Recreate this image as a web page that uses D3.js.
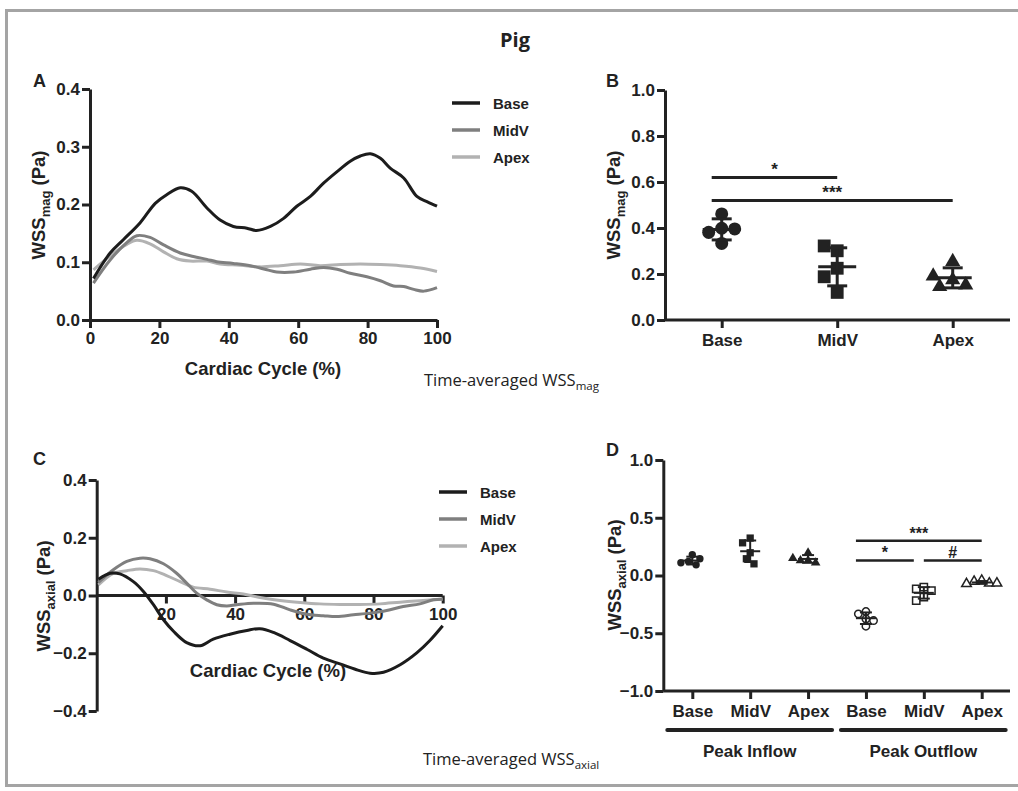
<!DOCTYPE html>
<html>
<head>
<meta charset="utf-8">
<script src="https://cdn.jsdelivr.net/npm/d3@7"></script>
<style>
  body { margin: 0; background: #fff; }
  text { font-family: "Liberation Sans", Arial, sans-serif; font-weight: bold; fill: #222; }
  .cap { font-family: "Open Sans", "Noto Sans", sans-serif; font-weight: normal; }
</style>
</head>
<body>
<svg id="chart" width="1018" height="791"></svg>
<script>
// ---- data ----
const regions = ["Base", "MidV", "Apex"];
const groups = ["Peak Inflow", "Peak Outflow"];

// panel A: WSS magnitude over the cardiac cycle, [cycle %, Pa]
const magBase = [[1,0.072],[5.8,0.116],[9.6,0.139],[14.4,0.168],[18.8,0.202],[22.1,0.217],[26,0.229],[29.3,0.223],[33.7,0.194],[37.5,0.173],[41.3,0.162],[45.2,0.159],[48,0.155],[52,0.162],[55.8,0.176],[59.6,0.197],[63.5,0.214],[67.3,0.237],[71.2,0.257],[75,0.275],[77.9,0.284],[80.8,0.288],[83.7,0.28],[86.5,0.263],[90.4,0.246],[94.2,0.214],[97.1,0.205],[100,0.197]];
const magMidV = [[1,0.064],[5.8,0.104],[10.6,0.134],[13.5,0.146],[17.3,0.143],[21.2,0.13],[26,0.116],[29.8,0.11],[33.7,0.105],[36.5,0.101],[41.3,0.098],[46.2,0.094],[51,0.087],[53.8,0.083],[58.7,0.083],[63.5,0.088],[67.3,0.091],[71.2,0.088],[75,0.081],[79.8,0.075],[83.7,0.068],[87.5,0.059],[90.4,0.058],[93.3,0.053],[96.2,0.05],[100,0.056]];
const magApex = [[1,0.087],[5.8,0.111],[10.6,0.131],[13.5,0.138],[17.3,0.132],[21.2,0.118],[25,0.106],[28.8,0.102],[33.7,0.102],[37.5,0.097],[43.3,0.095],[49,0.092],[54.8,0.094],[60.6,0.097],[66.3,0.094],[72.1,0.096],[77.9,0.097],[83.7,0.096],[89.4,0.094],[95.2,0.09],[100,0.084]];

// panel C: axial WSS over the cardiac cycle
const axBase = [[0.5,0.056],[3.9,0.077],[6.7,0.075],[10.6,0.048],[13.5,0.014],[16.4,-0.032],[19.3,-0.084],[22.2,-0.124],[26,-0.163],[29.9,-0.174],[33.7,-0.151],[38.5,-0.134],[43.4,-0.121],[47.2,-0.115],[51.1,-0.128],[55.9,-0.156],[60.7,-0.186],[65.5,-0.217],[70.3,-0.237],[75.1,-0.257],[79,-0.269],[82.9,-0.266],[87.7,-0.24],[92.5,-0.199],[96.3,-0.156],[100,-0.105]];
const axMidV = [[0.5,0.045],[4.8,0.089],[8.7,0.118],[12.5,0.129],[15.4,0.127],[19.3,0.11],[23.1,0.077],[26,0.043],[28.9,0.008],[31.8,-0.015],[34.7,-0.032],[37.6,-0.036],[40.5,-0.032],[45.3,-0.027],[51.1,-0.03],[55.9,-0.05],[60.7,-0.065],[65.5,-0.07],[69.4,-0.073],[74.2,-0.067],[79,-0.061],[83.8,-0.052],[88.6,-0.038],[93.4,-0.029],[97.3,-0.015],[100,-0.013]];
const axApex = [[0.5,0.037],[4.8,0.077],[8.7,0.086],[12.5,0.092],[16.4,0.086],[20.2,0.069],[24.1,0.048],[27.9,0.029],[32.8,0.022],[37.6,0.012],[42.4,0.005],[47.2,-0.007],[53,-0.017],[58.8,-0.024],[64.5,-0.029],[70.3,-0.031],[76.1,-0.031],[81.9,-0.029],[87.7,-0.023],[93.4,-0.018],[100,-0.012]];

// panel B: time-averaged WSS magnitude per animal
const tavgMag = {
  Base: [0.461, 0.399, 0.381, 0.396, 0.333],
  MidV: [0.301, 0.322, 0.225, 0.188, 0.120],
  Apex: [0.254, 0.174, 0.145, 0.152, 0.191]
};
const sigB = [
  { from: "Base", to: "MidV", y: 0.62, label: "*" },
  { from: "Base", to: "Apex", y: 0.52, label: "***" }
];

// panel D: time-averaged axial WSS, peak inflow / outflow
const inflowAx = {
  Base: [0.179, 0.121, 0.092, 0.110, 0.145],
  MidV: [0.324, 0.283, 0.197, 0.145, 0.101],
  Apex: [0.197, 0.130, 0.130, 0.110, 0.150]
};
const outflowAx = {
  Base: [-0.312, -0.332, -0.376, -0.390, -0.439],
  MidV: [-0.101, -0.116, -0.130, -0.188, -0.217],
  Apex: [-0.043, -0.052, -0.067, -0.072, -0.067]
};
const sigD = [
  { from: "out-Base", to: "out-Apex", y: 0.30, label: "***" },
  { from: "out-Base", to: "out-MidV", y: 0.13, label: "*" },
  { from: "out-MidV", to: "out-Apex", y: 0.13, label: "#" }
];

const lineColor = { Base: "#1c1c1c", MidV: "#7f7f7f", Apex: "#b2b2b2" };
const symbolOf = { Base: d3.symbolCircle, MidV: d3.symbolSquare, Apex: d3.symbolTriangle };

const svg = d3.select("#chart");
svg.append("rect").attr("width", 1018).attr("height", 791).attr("fill", "#fff");

// outer frame (right edge runs off the picture)
svg.append("rect")
  .attr("x", 6.5).attr("y", 10.5).attr("width", 1100).attr("height", 775)
  .attr("fill", "none").attr("stroke", "#a4a4a4").attr("stroke-width", 3);

svg.append("text").attr("class", "cap").attr("x", 515).attr("y", 47)
  .attr("text-anchor", "middle").style("font-weight", "bold").style("font-size", "20px").text("Pig");

function styleAxis(g) {
  g.selectAll("path, line").attr("stroke", "#222").attr("stroke-width", 3);
  g.selectAll("text").style("font-size", "17px").attr("fill", "#222");
}

function yTitle(x, y, sub) {
  const t = svg.append("text").attr("transform", `translate(${x},${y}) rotate(-90)`)
    .attr("text-anchor", "middle").style("font-size", "18.5px");
  t.append("tspan").text("WSS");
  t.append("tspan").attr("dy", 5).style("font-size", "13px").text(sub);
  t.append("tspan").attr("dy", -5).text(" (Pa)");
}

function panelLetter(x, y, s) {
  svg.append("text").attr("x", x).attr("y", y).style("font-size", "18px").text(s);
}

function caption(x, y, sub) {
  const t = svg.append("text").attr("class", "cap").attr("x", x).attr("y", y).style("font-size", "16.5px");
  t.append("tspan").text("Time-averaged WSS");
  t.append("tspan").attr("dy", 4).style("font-size", "11.5px").text(sub);
}

function legend(x, y0) {
  regions.forEach((r, i) => {
    const y = y0 + i * 27;
    svg.append("line").attr("x1", x).attr("x2", x + 28).attr("y1", y).attr("y2", y)
      .attr("stroke", lineColor[r]).attr("stroke-width", 3.5);
    svg.append("text").attr("x", x + 41).attr("y", y + 5.5).style("font-size", "15px").text(r);
  });
}

function curves(series, x, y) {
  const line = d3.line().x(d => x(d[0])).y(d => y(d[1])).curve(d3.curveCatmullRom.alpha(0.5));
  // draw lightest first so Base sits on top
  ["Apex", "MidV", "Base"].forEach(r => {
    svg.append("path").datum(series[r]).attr("d", line)
      .attr("fill", "none").attr("stroke", lineColor[r]).attr("stroke-width", 3);
  });
}

// ---- panel A ----
{
  const x = d3.scaleLinear().domain([0, 100]).range([90, 437]);
  const y = d3.scaleLinear().domain([0, 0.4]).range([320, 89]);
  svg.append("g").attr("transform", "translate(90,0)")
    .call(d3.axisLeft(y).tickValues([0, 0.1, 0.2, 0.3, 0.4]).tickFormat(d3.format(".1f")).tickSize(8).tickSizeOuter(0).tickPadding(2))
    .call(styleAxis);
  svg.append("g").attr("transform", "translate(0,320)")
    .call(d3.axisBottom(x).tickValues([0, 20, 40, 60, 80, 100]).tickSize(8).tickSizeOuter(0).tickPadding(4))
    .call(styleAxis);
  curves({ Base: magBase, MidV: magMidV, Apex: magApex }, x, y);
  svg.append("text").attr("x", 263).attr("y", 375).attr("text-anchor", "middle")
    .style("font-size", "18.5px").text("Cardiac Cycle (%)");
  yTitle(45, 205, "mag");
  panelLetter(33, 87, "A");
  legend(452, 103);
  caption(424, 386, "mag");
}

// ---- panel C ----
{
  const x = d3.scaleLinear().domain([0, 100]).range([96.7, 442.7]);
  const y = d3.scaleLinear().domain([-0.4, 0.4]).range([711, 480]);
  svg.append("g").attr("transform", "translate(96.7,0)")
    .call(d3.axisLeft(y).tickValues([-0.4, -0.2, 0, 0.2, 0.4]).tickFormat(d3.format(".1f")).tickSize(8).tickSizeOuter(0).tickPadding(2))
    .call(styleAxis);
  svg.append("g").attr("transform", `translate(0,${y(0)})`)
    .call(d3.axisBottom(x).tickValues([20, 40, 60, 80, 100]).tickSize(8).tickSizeOuter(0).tickPadding(4))
    .call(styleAxis)
    .call(g => g.select(".domain").attr("d", `M${x(0)},0H${x(100)}`));
  curves({ Base: axBase, MidV: axMidV, Apex: axApex }, x, y);
  svg.append("text").attr("x", 268).attr("y", 677).attr("text-anchor", "middle")
    .style("font-size", "18.5px").text("Cardiac Cycle (%)");
  yTitle(50, 596, "axial");
  panelLetter(33, 465, "C");
  legend(439, 492);
  caption(423, 765, "axial");
}

// spread points sideways so they do not overlap (column scatter)
function spread(vals, y, r) {
  const placed = [];
  return vals.map(v => {
    const py = y(v);
    let off = 0;
    for (let k = 0; k < 30; k++) {
      const c = k === 0 ? 0 : (k % 2 ? -1 : 1) * Math.ceil(k / 2) * r;
      if (placed.every(p => Math.hypot(p[0] - c, p[1] - py) >= 1.8 * r)) { off = c; break; }
    }
    placed.push([off, py]);
    return { v, off };
  });
}

function column(cx, vals, y, opt) {
  const pts = spread(vals, y, opt.r);
  svg.append("g").selectAll("path").data(pts).join("path")
    .attr("transform", d => `translate(${cx + d.off},${y(d.v)})`)
    .attr("d", d3.symbol().type(opt.symbol).size(opt.size))
    .attr("fill", opt.open ? "#fff" : "#222")
    .attr("stroke", "#222").attr("stroke-width", opt.open ? 1.5 : 0);
  const m = d3.mean(vals), sd = d3.deviation(vals);
  const g = svg.append("g").attr("stroke", "#222").attr("stroke-width", opt.bw);
  g.append("line").attr("x1", cx - opt.mw).attr("x2", cx + opt.mw).attr("y1", y(m)).attr("y2", y(m));
  g.append("line").attr("x1", cx).attr("x2", cx).attr("y1", y(m - sd)).attr("y2", y(m + sd));
  [m - sd, m + sd].forEach(v => g.append("line").attr("x1", cx - opt.cw).attr("x2", cx + opt.cw).attr("y1", y(v)).attr("y2", y(v)));
}

function brackets(list, x, y, fs, sw) {
  list.forEach(a => {
    let x1 = x(a.from) - 10, x2 = x(a.to);
    if (list.some(b => b !== a && b.y === a.y && b.from === a.to)) x2 -= 10;
    if (list.some(b => b !== a && b.y === a.y && b.to === a.from)) x1 = x(a.from);
    svg.append("line").attr("x1", x1).attr("x2", x2).attr("y1", y(a.y)).attr("y2", y(a.y))
      .attr("stroke", "#222").attr("stroke-width", sw);
    svg.append("text").attr("x", (x1 + x2) / 2).attr("y", y(a.y) - 2).attr("text-anchor", "middle")
      .style("font-size", fs).text(a.label);
  });
}

// ---- panel B ----
{
  const x = d3.scalePoint().domain(regions).range([721.7, 952.7]);
  const y = d3.scaleLinear().domain([0, 1]).range([320, 90]);
  svg.append("g").attr("transform", "translate(665,0)")
    .call(d3.axisLeft(y).tickValues([0, 0.2, 0.4, 0.6, 0.8, 1.0]).tickFormat(d3.format(".1f")).tickSize(8).tickSizeOuter(0).tickPadding(2))
    .call(styleAxis);
  svg.append("g").attr("transform", "translate(0,320)")
    .call(d3.axisBottom(x).tickSize(8).tickSizeOuter(0).tickPadding(6))
    .call(styleAxis)
    .call(g => g.select(".domain").attr("d", "M665,0H1010"));
  regions.forEach(r => column(x(r), tavgMag[r], y,
    { r: 6.5, symbol: symbolOf[r], size: r === "Apex" ? 100 : (r === "MidV" ? 165 : 133), open: false, bw: 3, mw: 19, cw: 10 }));
  brackets(sigB, x, y, "17px", 3);
  yTitle(620, 205, "mag");
  panelLetter(606, 87, "B");
}

// ---- panel D ----
{
  const keys = [...regions.map(r => "in-" + r), ...regions.map(r => "out-" + r)];
  const x = d3.scalePoint().domain(keys).range([692.3, 981.7]);
  const y = d3.scaleLinear().domain([-1, 1]).range([691, 460]);
  svg.append("g").attr("transform", "translate(663.3,0)")
    .call(d3.axisLeft(y).tickValues([-1, -0.5, 0, 0.5, 1]).tickFormat(d3.format(".1f")).tickSize(8).tickSizeOuter(0).tickPadding(2))
    .call(styleAxis);
  svg.append("g").attr("transform", "translate(0,691)")
    .call(d3.axisBottom(x).tickSize(8).tickSizeOuter(0).tickPadding(6).tickFormat(k => k.split("-")[1]))
    .call(styleAxis)
    .call(g => g.select(".domain").attr("d", "M663.3,0H1010"));
  const sizes = { Base: 43, MidV: 53, Apex: 40 };
  regions.forEach(r => {
    column(x("in-" + r), inflowAx[r], y, { r: 3.8, symbol: symbolOf[r], size: sizes[r], open: false, bw: 2, mw: 10, cw: 6 });
    column(x("out-" + r), outflowAx[r], y, { r: 3.8, symbol: symbolOf[r], size: sizes[r], open: true, bw: 2, mw: 10, cw: 6 });
  });
  brackets(sigD, x, y, "16px", 2.5);
  // group bars under the category labels
  groups.forEach((gname, i) => {
    const ks = keys.slice(i * 3, i * 3 + 3);
    const x1 = x(ks[0]) - 25, x2 = x(ks[2]) + 24;
    svg.append("line").attr("x1", x1).attr("x2", x2).attr("y1", 730).attr("y2", 730)
      .attr("stroke", "#222").attr("stroke-width", 4).attr("stroke-linecap", "round");
    svg.append("text").attr("x", (x1 + x2) / 2).attr("y", 757).attr("text-anchor", "middle")
      .style("font-size", "17px").text(gname);
  });
  yTitle(621, 575, "axial");
  panelLetter(606, 456, "D");
}
</script>
</body>
</html>
